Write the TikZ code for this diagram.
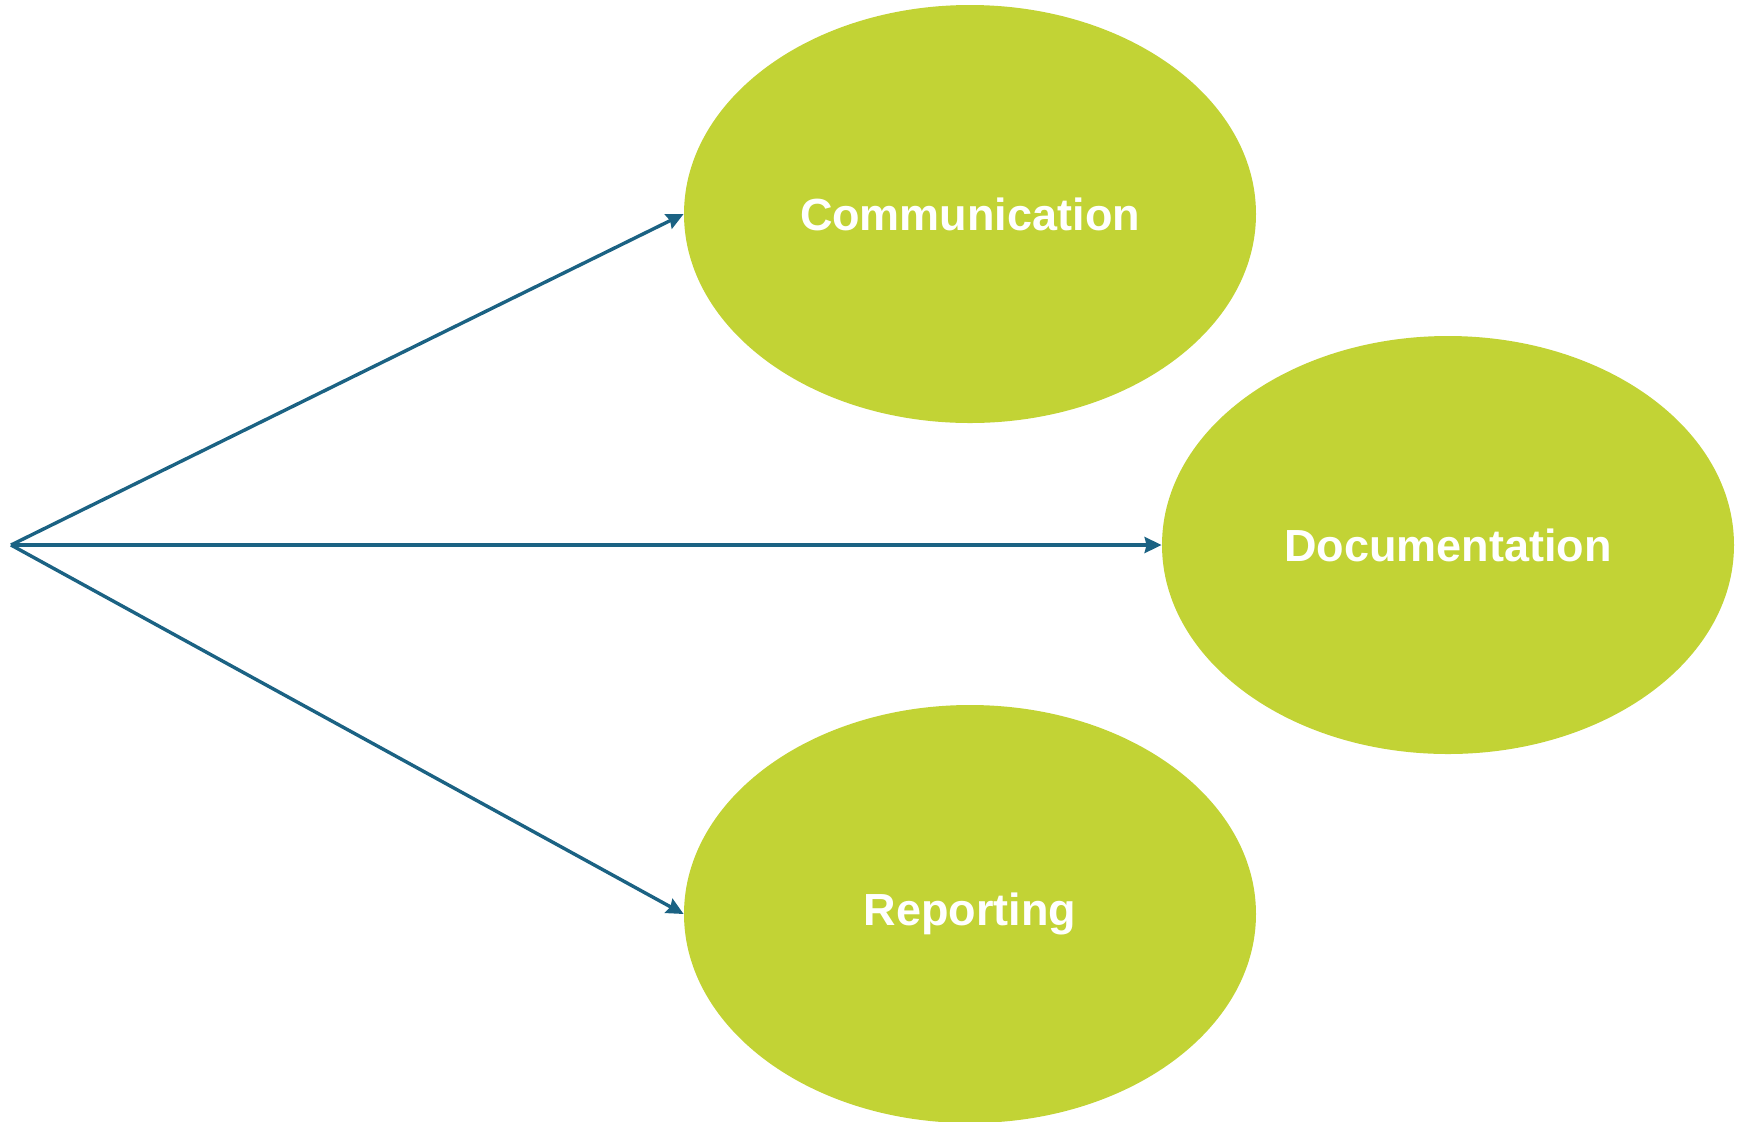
\documentclass[tikz,border=0pt]{standalone}
\usepackage{fontspec}
\setmainfont{Liberation Sans}
\usetikzlibrary{shapes.geometric,arrows.meta}
\definecolor{leaf}{HTML}{C2D335}
\definecolor{linkblue}{HTML}{1B6283}
\tikzset{
  blob/.style={ellipse, fill=leaf, draw=none, inner sep=0pt,
    minimum width=286pt, minimum height=209pt,
    text=white, font=\fontsize{22.5}{26}\selectfont\bfseries},
  link/.style={draw=linkblue, line width=1.7pt,
    -{Stealth[length=8.5pt,width=8pt,inset=1pt]}}
}
\begin{document}
\begin{tikzpicture}[x=0.5pt,y=-0.5pt]
\useasboundingbox (0,0) rectangle (1747,1121);
\node[blob] (comm) at (970,214) {Communication};
\node[blob] (doc) at (1448,545) {Documentation};
\node[blob] (rep) at (970,914) {Reporting};
\coordinate (src) at (11,545);
\draw[link] (src) -- (comm.west);
\draw[link] (src) -- (doc.west);
\draw[link] (src) -- (rep.west);
\end{tikzpicture}
\end{document}
